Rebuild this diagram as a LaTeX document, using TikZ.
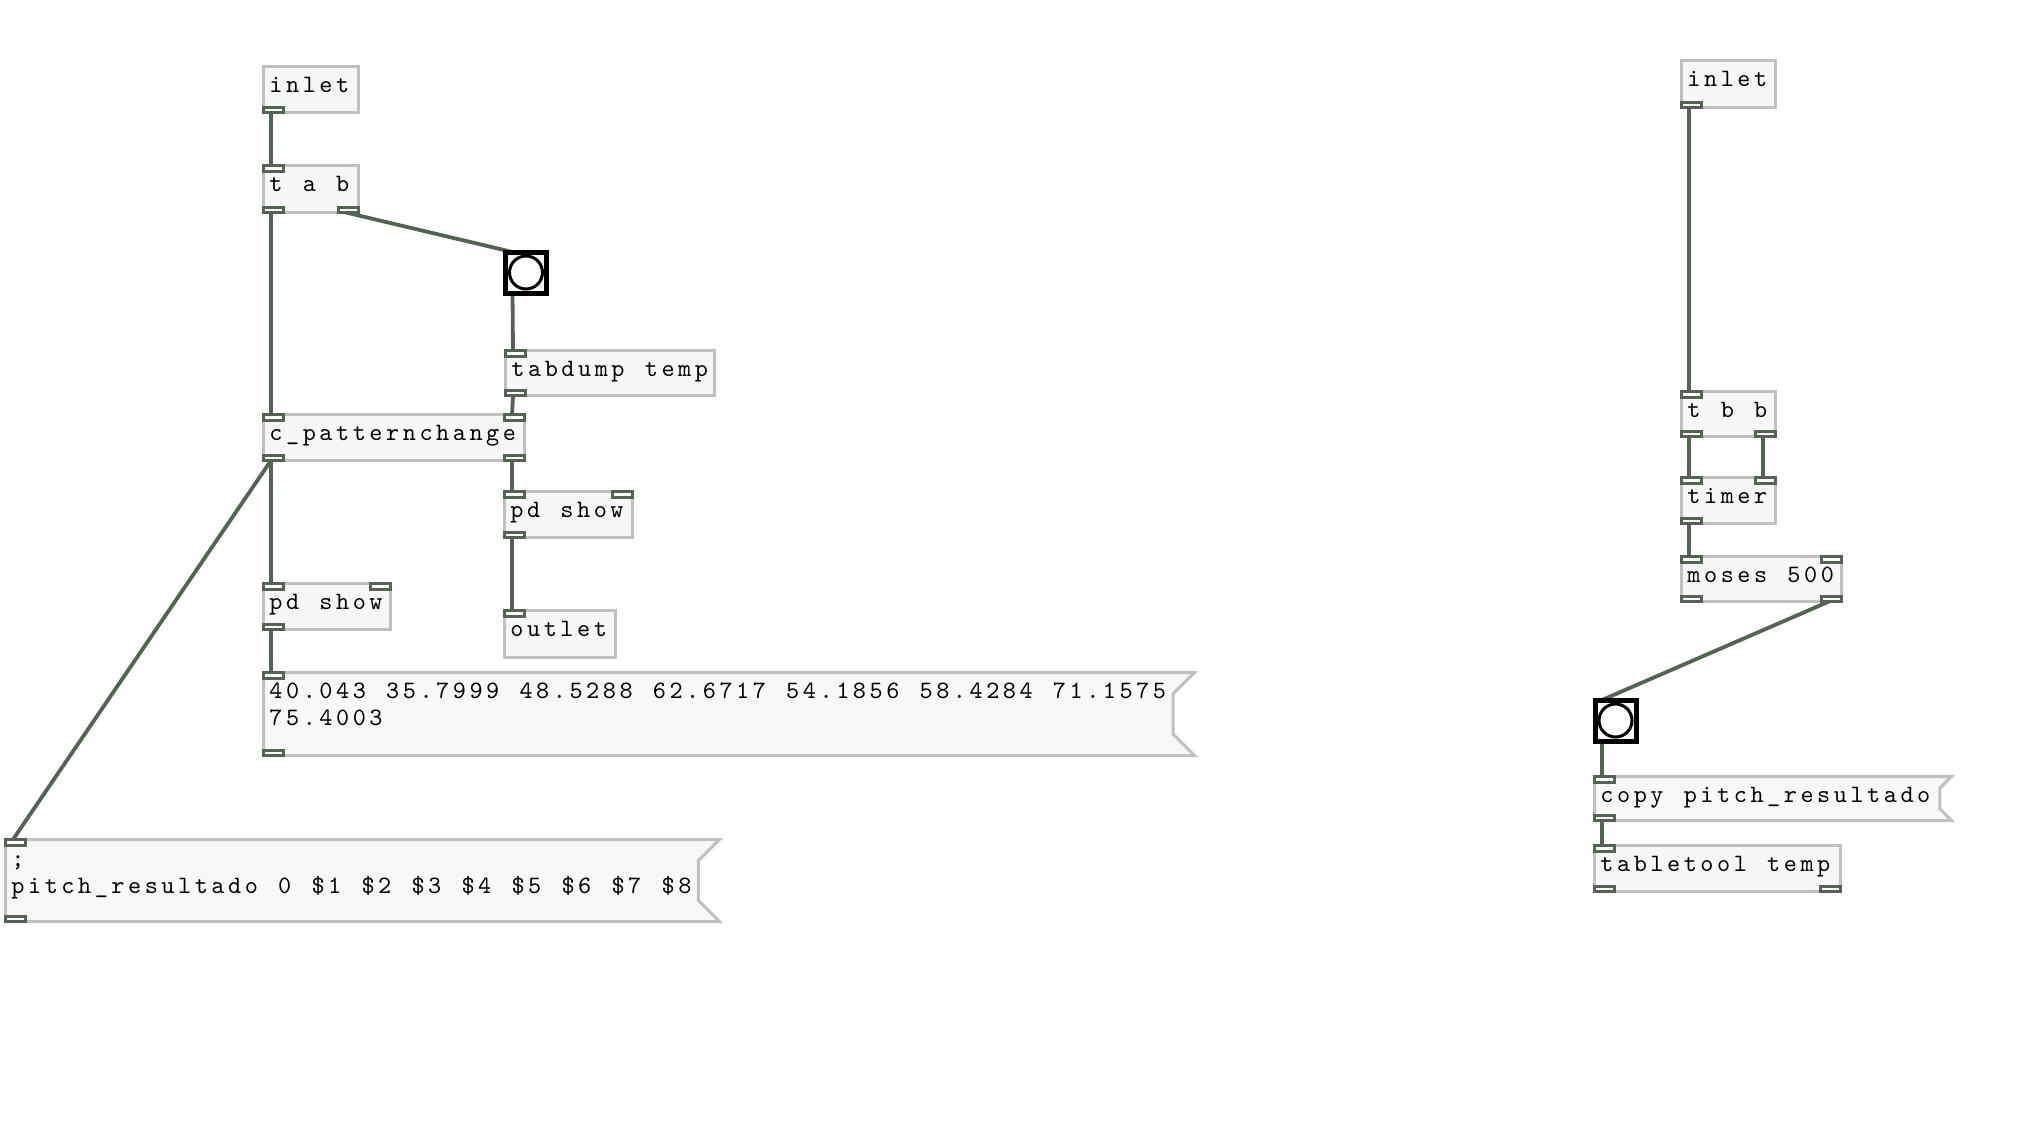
\documentclass[tikz,border=0pt]{standalone}
\usepackage{fontspec}
\newfontfamily\pdfont{lmmono10-regular.otf}
\usetikzlibrary{calc}
\pgfdeclarelayer{bgzero}
\pgfdeclarelayer{background}
\pgfsetlayers{bgzero,background,main}
\definecolor{conncol}{HTML}{536453}
\definecolor{boxborder}{HTML}{C0C0C0}
\definecolor{boxfill}{HTML}{F6F7F6}
\definecolor{msgfill}{HTML}{F8F8F7}
% fixed character cells, as Pd draws its text; "|" stands for a space
\def\pdstr#1{\pdstri#1\relax}
\def\pdstri#1{\ifx#1\relax\else\ifx#1|\hbox to 16.67pt{}\else\hbox to 16.67pt{\hss#1\hss}\fi\expandafter\pdstri\fi}
\tikzset{
 objbox/.style={draw=boxborder, line width=3pt, fill=boxfill, inner sep=0pt, outer sep=0pt},
 msgbase/.style={inner sep=0pt, outer sep=0pt},
 msgshape/.style={draw=boxborder, line width=3pt, fill=msgfill, line join=miter},
 pdtext/.style={font=\pdfont\fontsize{25}{27}\selectfont, anchor=base west, inner sep=0pt, text=black},
 iolet/.style={draw=conncol, line width=3pt, fill=white, minimum width=20pt, minimum height=5.5pt, inner sep=0pt, outer sep=0pt},
 conn/.style={draw=conncol, line width=3.8pt},
 bangbox/.style={draw=black, line width=5pt, fill=boxfill, minimum size=41pt, inner sep=0pt, outer sep=0pt},
 bangcircle/.style={draw=black, line width=3pt, fill=white},
}
\newcommand\pdobj[6]{%
 \pgfmathsetmacro\pdw{#4-#2-3}\pgfmathsetmacro\pdh{#5-#3-3}%
 \node[objbox, minimum width=\pdw pt, minimum height=\pdh pt] (#1) at ({(#2+#4)/2},{(#3+#5)/2}) {};
 \node[pdtext] (#1-t) at ({#2+5.5},{#3+27.5}) {\pdstr{#6}};}
\newcommand\pdmsg[5]{%
 \pgfmathsetmacro\pdw{#4-#2-3}\pgfmathsetmacro\pdh{#5-#3-3}\pgfmathsetmacro\pdn{(#5-#3)/4}%
 \node[msgbase, minimum width=\pdw pt, minimum height=\pdh pt] (#1) at ({(#2+#4)/2},{(#3+#5)/2}) {};
 \path[msgshape] (#1.north west) -- (#1.north east) -- ++(-\pdn,\pdn) -- ($(#1.south east)+(-\pdn,-\pdn)$) -- (#1.south east) -- (#1.south west) -- cycle;}
\newcommand\pdio[3]{\node[iolet] (#1) at ({#2+11.5},{#3+4.25}) {};}
\newcommand\pdconn[2]{\draw[conn] ($(#1.south west)+(7.5,0)$) -- ($(#2.north west)+(7.5,0)$);}
\begin{document}
\begin{tikzpicture}[x=1pt,y=-1pt]
\useasboundingbox (0,0) rectangle (2033,1122);
\begin{pgfonlayer}{bgzero}
\fill[white] (0,0) rectangle (2033,1122);
\end{pgfonlayer}
% ---------- left patch ----------
\pdobj{inL}{262}{65}{360}{114}{inlet}
\pdobj{tab}{262}{164}{360}{214}{t|a|b}
\node[bangbox] (bang1) at (526,272.5) {};
\draw[bangcircle] (bang1.center) circle[radius=16.5];
\pdobj{tabdump}{504}{349}{716}{397}{tabdump|temp}
\pdobj{cpat}{262}{413}{526}{462}{c\_patternchange}
\pdobj{showR}{503}{490}{634}{539}{pd|show}
\pdobj{outl}{503}{609}{617}{659}{outlet}
\pdobj{showL}{262}{582}{392}{631}{pd|show}
\pdmsg{nums}{262}{671}{1196}{757}
\node[pdtext] (nums-t1) at (267.5,698) {\pdstr{40.043|35.7999|48.5288|62.6717|54.1856|58.4284|71.1575}};
\node[pdtext] (nums-t2) at (267.5,725) {\pdstr{75.4003}};
\pdmsg{pitch}{4}{838}{721}{923}
\node[pdtext] (pitch-t1) at (9.5,866) {\pdstr{;}};
\node[pdtext] (pitch-t2) at (9.5,893) {\pdstr{pitch\_resultado|0|\$1|\$2|\$3|\$4|\$5|\$6|\$7|\$8}};
% ---------- right patch ----------
\pdobj{inR}{1680}{59}{1777}{109}{inlet}
\pdobj{tbb}{1680}{390}{1777}{438}{t|b|b}
\pdobj{timer}{1680}{476}{1777}{525}{timer}
\pdobj{moses}{1680}{555}{1843}{603}{moses|500}
\node[bangbox] (bang2) at (1615.5,720.5) {};
\draw[bangcircle] (bang2.center) circle[radius=16.5];
\pdmsg{copy}{1593}{775}{1953}{822}
\node[pdtext] (copy-t) at (1598.5,802.5) {\pdstr{copy|pitch\_resultado}};
\pdobj{tool}{1593}{844}{1842}{893}{tabletool|temp}
% ---------- iolets ----------
\pdio{inL-o0}{262}{105.5}
\pdio{tab-i0}{262}{164}
\pdio{tab-o0}{262}{205.5}
\pdio{tab-o1}{337}{205.5}
\pdio{tabdump-i0}{504}{349}
\pdio{tabdump-o0}{504}{388.5}
\pdio{cpat-i0}{262}{413}
\pdio{cpat-i1}{503}{413}
\pdio{cpat-o0}{262}{453.5}
\pdio{cpat-o1}{503}{453.5}
\pdio{showR-i0}{503}{490}
\pdio{showR-i1}{611}{490}
\pdio{showR-o0}{503}{530.5}
\pdio{outl-i0}{503}{609}
\pdio{showL-i0}{262}{582}
\pdio{showL-i1}{369}{582}
\pdio{showL-o0}{262}{622.5}
\pdio{nums-i0}{262}{671}
\pdio{nums-o0}{262}{748.5}
\pdio{pitch-i0}{4}{838}
\pdio{pitch-o0}{4}{914.5}
\pdio{inR-o0}{1680}{100.5}
\pdio{tbb-i0}{1680}{390}
\pdio{tbb-o0}{1680}{429.5}
\pdio{tbb-o1}{1754}{429.5}
\pdio{timer-i0}{1680}{476}
\pdio{timer-i1}{1754}{476}
\pdio{timer-o0}{1680}{516.5}
\pdio{moses-i0}{1680}{555}
\pdio{moses-i1}{1820}{555}
\pdio{moses-o0}{1680}{594.5}
\pdio{moses-o1}{1820}{594.5}
\pdio{copy-i0}{1593}{775}
\pdio{copy-o0}{1593}{813.5}
\pdio{tool-i0}{1593}{844}
\pdio{tool-o0}{1593}{884.5}
\pdio{tool-o1}{1819}{884.5}
% ---------- connections ----------
\begin{pgfonlayer}{background}
\pdconn{inL-o0}{tab-i0}
\pdconn{tab-o0}{cpat-i0}
\draw[conn] ($(tab-o1.south west)+(7.5,0)$) -- ($(bang1.north west)+(7,0)$);
\draw[conn] ($(bang1.south west)+(7,0)$) -- ($(tabdump-i0.north west)+(7.5,0)$);
\pdconn{tabdump-o0}{cpat-i1}
\pdconn{cpat-o0}{showL-i0}
\pdconn{cpat-o0}{pitch-i0}
\pdconn{cpat-o1}{showR-i0}
\pdconn{showR-o0}{outl-i0}
\pdconn{showL-o0}{nums-i0}
\pdconn{inR-o0}{tbb-i0}
\pdconn{tbb-o0}{timer-i0}
\pdconn{tbb-o1}{timer-i1}
\pdconn{timer-o0}{moses-i0}
\draw[conn] ($(moses-o1.south west)+(7.5,0)$) -- ($(bang2.north west)+(7,0)$);
\draw[conn] ($(bang2.south west)+(7,0)$) -- ($(copy-i0.north west)+(7.5,0)$);
\pdconn{copy-o0}{tool-i0}
\end{pgfonlayer}
\end{tikzpicture}
\end{document}
